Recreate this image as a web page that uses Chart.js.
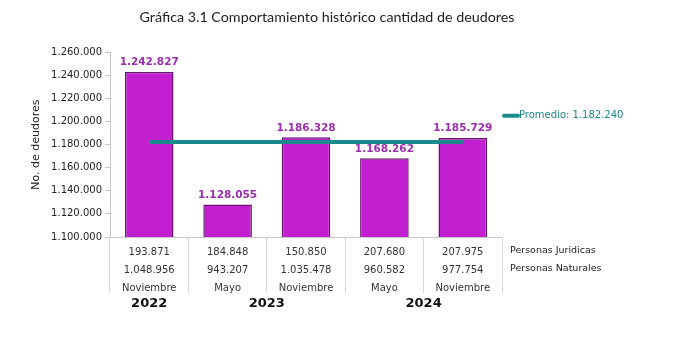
<!DOCTYPE html>
<html>
<head>
<meta charset="utf-8">
<script src="https://cdn.jsdelivr.net/npm/chart.js@4"></script>
<style>
  html, body { margin: 0; padding: 0; background: #fff; }
  #wrap { width: 699px; height: 349px; position: relative; }
</style>
</head>
<body>
<div id="wrap"><canvas id="chart1"></canvas></div>
<script>
// data
const months = ["Noviembre", "Mayo", "Noviembre", "Mayo", "Noviembre"];
const years = ["2022", "2023", "2024"];
const yearPos = [0, 1.5, 3.5];   // where each year label sits (category index)
const totalDeudores = [1242827, 1128055, 1186328, 1168262, 1185729];
const juridicas = [193871, 184848, 150850, 207680, 207975];
const naturales = [1048956, 943207, 1035478, 960582, 977754];
const promedio = 1182240;
const rowLabels = ["Personas Juridicas", "Personas Naturales"];

function fmt(n) {
    return n.toString().replace(/\B(?=(\d{3})+(?!\d))/g, ".");
}

let tickLabels = months.map(function (m, i) {
    return [fmt(juridicas[i]), fmt(naturales[i]), m];
});

const barColor = '#c21fd0';
const barBorder = '#6a1272';
const lineColor = '#1b8a8c';
const labelColor = '#9b2db0';

// draws value labels, table row names, years and the legend
let extras = {
    id: 'extras',
    afterDatasetsDraw: function (chart) {
        let ctx = chart.ctx;
        let x = chart.scales.x;
        let y = chart.scales.y;
        let meta = chart.getDatasetMeta(0);

        ctx.save();
        ctx.font = 'bold 10.5px Verdana, "DejaVu Sans", sans-serif';
        ctx.fillStyle = labelColor;
        ctx.textAlign = 'center';
        ctx.textBaseline = 'bottom';
        meta.data.forEach(function (bar, i) {
            ctx.fillText(fmt(totalDeudores[i]), bar.x, bar.y - 4);
        });

        // row names of the data table
        ctx.font = '9.5px Tahoma, "DejaVu Sans", sans-serif';
        ctx.fillStyle = '#222';
        ctx.textAlign = 'left';
        ctx.textBaseline = 'middle';
        ctx.fillText(rowLabels[0], x.right + 8, y.bottom + 14);
        ctx.fillText(rowLabels[1], x.right + 8, y.bottom + 32);

        // years
        ctx.font = 'bold 13px Verdana, "DejaVu Sans", sans-serif';
        ctx.fillStyle = '#111';
        ctx.textAlign = 'center';
        years.forEach(function (yr, i) {
            ctx.fillText(yr, x.getPixelForValue(yearPos[i]), y.bottom + 67);
        });

        // legend
        let ly = y.getPixelForValue(1205000);
        ctx.strokeStyle = lineColor;
        ctx.lineWidth = 4;
        ctx.lineCap = 'round';
        ctx.beginPath();
        ctx.moveTo(x.right + 2, ly);
        ctx.lineTo(x.right + 16, ly);
        ctx.stroke();
        ctx.font = '10px Tahoma, "DejaVu Sans", sans-serif';
        ctx.fillStyle = lineColor;
        ctx.textAlign = 'left';
        ctx.fillText(chart.data.datasets[1].label, x.right + 17, ly);
        ctx.restore();
    }
};

new Chart(document.getElementById('chart1'), {
    type: 'bar',
    data: {
        labels: tickLabels,
        datasets: [{
            label: 'Deudores',
            data: totalDeudores,
            backgroundColor: barColor,
            borderColor: barBorder,
            borderWidth: 1.5,
            barPercentage: 0.62,
            categoryPercentage: 1,
            order: 2
        }, {
            type: 'line',
            label: 'Promedio: ' + fmt(promedio),
            data: totalDeudores.map(function () { return promedio; }),
            borderColor: lineColor,
            borderWidth: 4,
            pointRadius: 0,
            fill: false,
            order: 1
        }]
    },
    options: {
        responsive: true,
        maintainAspectRatio: false,
        animation: false,
        layout: { padding: { left: 26, right: 71, top: 0, bottom: 0 } },
        plugins: {
            legend: { display: false },
            tooltip: { enabled: false },
            title: {
                display: true,
                text: 'Gráfica 3.1 Comportamiento histórico cantidad de deudores',
                color: '#222',
                font: { family: 'Lato, "Open Sans", sans-serif', size: 14.3, weight: 'normal' },
                padding: { top: 9, bottom: 26 }
            }
        },
        scales: {
            x: {
                offset: true,
                grid: {
                    display: true,
                    offset: true,
                    drawOnChartArea: false,
                    drawTicks: true,
                    tickLength: 56,
                    color: '#d9d9d9'
                },
                border: { color: '#c8c8c8' },
                ticks: {
                    padding: -50,
                    maxRotation: 0,
                    autoSkip: false,
                    color: '#333',
                    font: { family: 'Tahoma, "DejaVu Sans", sans-serif', size: 10, lineHeight: 1.8 }
                },
                afterFit: function (scale) { scale.height = 112; }
            },
            y: {
                min: 1100000,
                max: 1260000,
                grid: { display: true, drawOnChartArea: false, tickLength: 5, color: '#c8c8c8' },
                border: { color: '#c8c8c8' },
                ticks: {
                    stepSize: 20000,
                    padding: 3,
                    color: '#222',
                    font: { family: 'Tahoma, "DejaVu Sans", sans-serif', size: 10 },
                    callback: function (v) { return fmt(v); }
                },
                title: {
                    display: true,
                    text: 'No. de deudores',
                    color: '#222',
                    font: { family: 'Tahoma, "DejaVu Sans", sans-serif', size: 11 },
                    padding: { bottom: 10 }
                },
                afterFit: function (scale) { scale.width = 84; }
            },
            // empty box on the right that leaves room for the table names and legend
            yRight: {
                position: 'right',
                display: true,
                grid: { display: false },
                border: { display: false },
                ticks: { display: false },
                afterFit: function (scale) { scale.width = 126; }
            }
        }
    },
    plugins: [extras]
});
</script>
</body>
</html>
